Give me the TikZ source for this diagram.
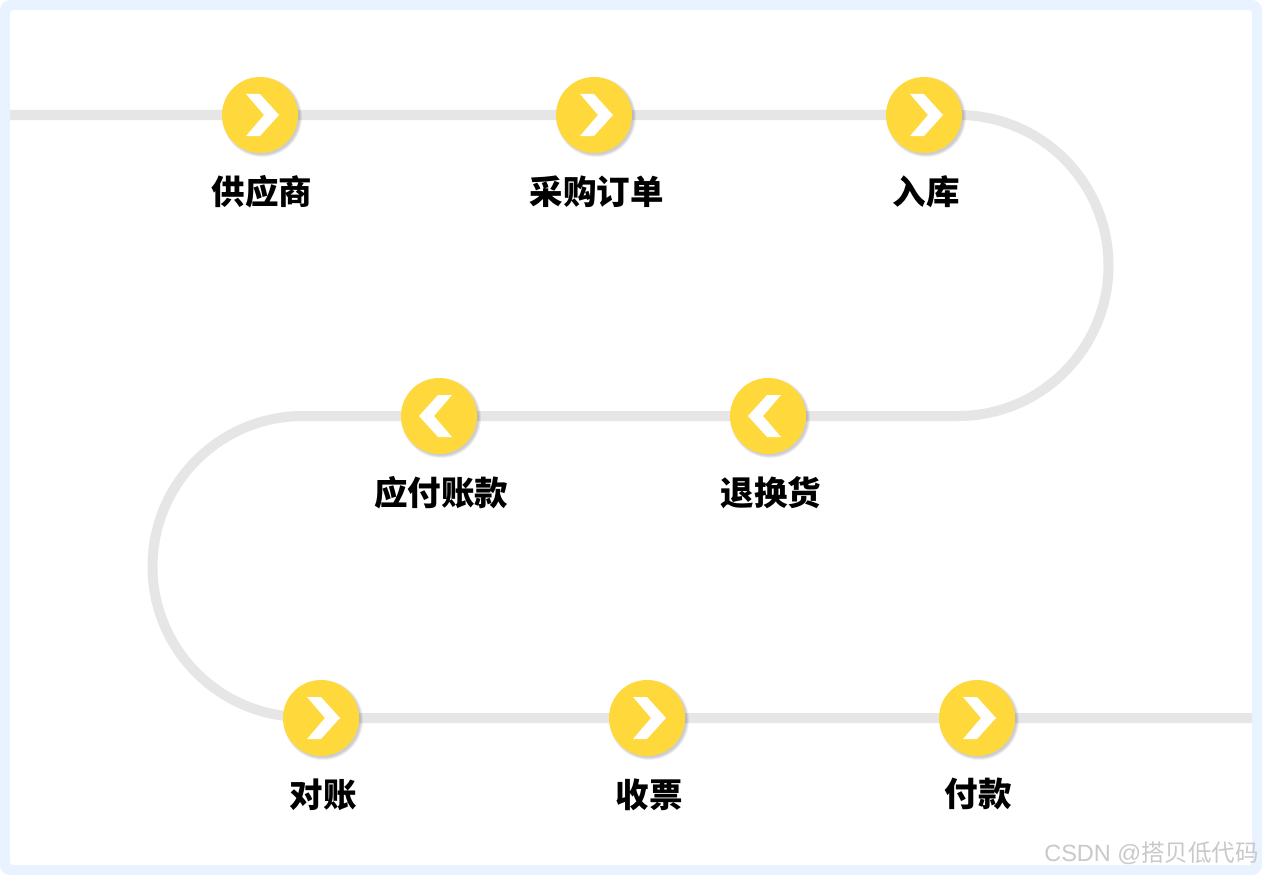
\documentclass[tikz,border=0pt]{standalone}
\usepackage{fontspec}
\setmainfont{Liberation Sans}
\newfontfamily\cjk{Noto Sans CJK SC}
\usepackage{tikz}
\usetikzlibrary{positioning, shadows, backgrounds}
\definecolor{stop-yellow}{HTML}{FFD83C}
\definecolor{track-grey}{HTML}{E6E6E6}
\definecolor{frame-blue}{HTML}{E9F2FF}
\definecolor{mark-grey}{HTML}{C9C9C9}
\tikzset{
	softlayer/.style={general shadow={shadow xshift=2pt, shadow yshift=-2pt, shadow scale=#1, fill=black, opacity=0.05}},
	stopdot/.style={circle, fill=stop-yellow, minimum size=76pt, inner sep=0pt,
		softlayer=1.05, softlayer=1.03, softlayer=1.01, softlayer=0.99},
	stoplabel/.style={font=\cjk\bfseries\fontsize{33.5}{33.5}\selectfont, text=black, inner sep=0pt, below=22pt of #1},
	track/.style={line width=10pt, track-grey},
	chevron/.pic={\fill[white] (-14,-21) -- (0,-21) -- (19,0) -- (0,21) -- (-14,21) -- (4,0) -- cycle;}
}
\begin{document}
\begin{tikzpicture}[x=1pt, y=-1pt]
	\useasboundingbox (0,0) rectangle (1262,875);
	\node[stopdot] (1) at (260,115) {};
	\node[stopdot] (2) at (594,115) {};
	\node[stopdot] (3) at (924,115) {};
	\node[stopdot] (4) at (768,416) {};
	\node[stopdot] (5) at (439,416) {};
	\node[stopdot] (6) at (321,718) {};
	\node[stopdot] (7) at (647,718) {};
	\node[stopdot] (8) at (977,718) {};
	% chevrons
	\foreach \n in {1,2,3,6,7,8}
		\pic at (\n) {chevron};
	\foreach \n in {4,5}
		\pic[xscale=-1, xshift=1pt] at (\n) {chevron};
	% labels
	\node[stoplabel=1, xshift=2pt] (l1) {供应商};
	\node[stoplabel=2, xshift=2.5pt] (l2) {采购订单};
	\node[stoplabel=3, xshift=2pt] (l3) {入库};
	\node[stoplabel=4, xshift=3pt] (l4) {退换货};
	\node[stoplabel=5, xshift=2pt] (l5) {应付账款};
	\node[stoplabel=6, xshift=2pt] (l6) {对账};
	\node[stoplabel=7, xshift=2pt] (l7) {收票};
	\node[stoplabel=8, xshift=1pt] (l8) {付款};
	\node[anchor=east, text=mark-grey, inner sep=0pt, font=\fontsize{23.5}{23.5}\selectfont] (mark) at (1259,853) {CSDN @{\cjk 搭贝低代码}};
	\coordinate (start) at (10,115);
	\coordinate (end) at (1252,718);
	\coordinate (bendr) at (958,115);
	\coordinate (bendl) at (303,416);
	\begin{scope}[on background layer]
		\fill[frame-blue, rounded corners=10pt] (0,0) rectangle (1262,875);
		\fill[white, rounded corners=3pt] (10,10) rectangle (1252,865);
		\draw[track] (start) -- (1.center) -- (2.center) -- (3.center) -- (bendr)
			arc[start angle=-90, end angle=90, radius=150.5] -- (4.center) -- (5.center) -- (bendl)
			arc[start angle=270, end angle=90, radius=150.5] -- (6.center) -- (7.center) -- (8.center) -- (end);
	\end{scope}
\end{tikzpicture}
\end{document}
